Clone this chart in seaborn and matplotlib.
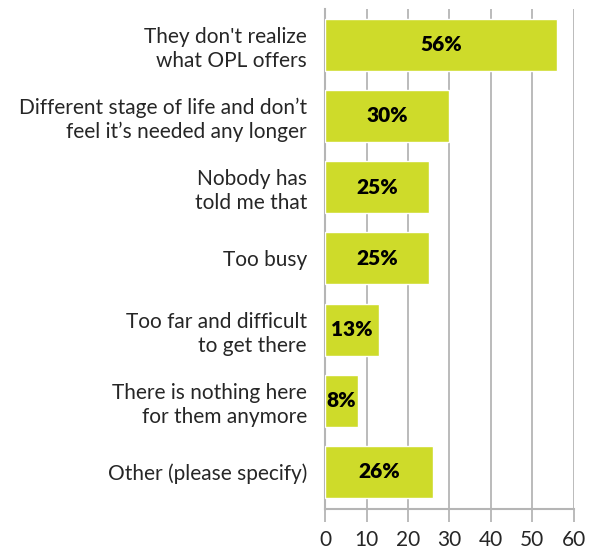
import pandas as pd
import matplotlib
matplotlib.use("Agg")
import matplotlib.pyplot as plt
import seaborn as sns

reasons = [
    "They don't realize\nwhat OPL offers",
    "Different stage of life and don\u2019t\nfeel it\u2019s needed any longer",
    "Nobody has\ntold me that",
    "Too busy",
    "Too far and difficult\nto get there",
    "There is nothing here\nfor them anymore",
    "Other (please specify)",
]
percents = [56, 30, 25, 25, 13, 8, 26]
x_ticks = [0, 10, 20, 30, 40, 50, 60]

df = pd.DataFrame({"reason": reasons, "pct": percents})

sns.set_style("white")
plt.rcParams["font.family"] = ["Lato", "DejaVu Sans"]

fig = plt.figure(figsize=(5.91, 5.5), dpi=100)
ax = fig.add_axes([0.55, 0.0745, 0.421, 0.909])

sns.barplot(data=df, x="pct", y="reason", color="#cedb2a", width=0.73,
            saturation=1, ax=ax, zorder=3)

for i, v in enumerate(percents):
    ax.text(v / 2, i, f"{v}%", ha="center", va="center",
            fontsize=15, fontweight="heavy", color="black", zorder=4)

ax.set_xlim(0, 60)
ax.set_ylim(6.52, -0.5)
ax.set_xticks(x_ticks)
ax.xaxis.grid(True, color="#b5b5b5", linewidth=1.3, zorder=0)
ax.set_axisbelow(True)
ax.set_xlabel("")
ax.set_ylabel("")

for s in ["top", "right"]:
    ax.spines[s].set_visible(False)
for s in ["left", "bottom"]:
    ax.spines[s].set_color("#b5b5b5")
    ax.spines[s].set_linewidth(1.5)

ax.tick_params(axis="x", length=9, width=1.3, color="#b5b5b5",
               labelsize=15, pad=6, bottom=True)
ax.tick_params(axis="y", length=0, labelsize=15, pad=13)
for lbl in ax.get_yticklabels():
    lbl.set_multialignment("right")
    lbl.set_linespacing(1.25)

fig.savefig("out.png", dpi=100)
